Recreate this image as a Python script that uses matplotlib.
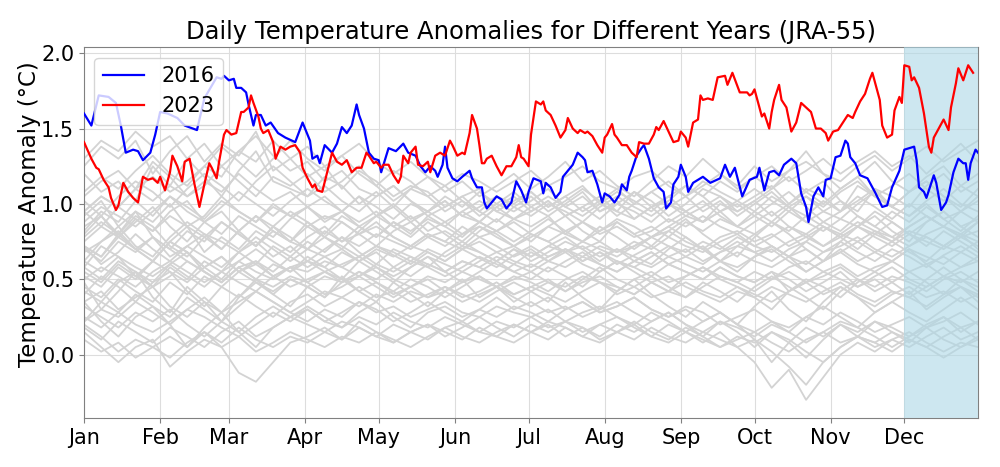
import numpy as np
import matplotlib
matplotlib.use("Agg")
import matplotlib.pyplot as plt

# month ticks (day of year, non-leap)
month_starts = [0, 31, 59, 90, 120, 151, 181, 212, 243, 273, 304, 334]
month_labels = ["Jan", "Feb", "Mar", "Apr", "May", "Jun",
                "Jul", "Aug", "Sep", "Oct", "Nov", "Dec"]

# 2016 anomalies (day of year, degC)
days_2016 = [0, 3, 6, 10, 13, 15, 17, 20, 22, 24, 27, 29, 31, 34, 38, 41, 46, 49, 54, 56,
             57, 59, 61, 62, 64, 66, 67, 69, 70, 72, 74, 76, 79, 82, 86, 89, 92, 93, 95, 96,
             98, 101, 103, 105, 107, 109, 111, 112, 114, 116, 118, 120, 121, 124, 127, 130,
             132, 135, 137, 139, 141, 143, 144, 146, 147, 148, 150, 152, 154, 157, 158, 160,
             162, 163, 164, 166, 168, 170, 172, 174, 176, 178, 180, 181, 183, 186, 187, 188,
             190, 192, 194, 195, 197, 199, 201, 203, 204, 205, 207, 209, 211, 212, 214, 216,
             218, 219, 221, 222, 223, 225, 227, 228, 230, 232, 234, 236, 237, 239, 240, 242,
             243, 245, 246, 248, 252, 255, 259, 261, 263, 265, 268, 271, 274, 275, 277, 279,
             281, 283, 285, 288, 290, 292, 294, 295, 297, 299, 301, 302, 304, 306, 308, 310,
             311, 312, 314, 316, 319, 322, 325, 327, 329, 332, 334, 338, 339, 340, 342, 343,
             346, 347, 349, 351, 352, 354, 356, 358, 359, 360, 361, 363, 364]
vals_2016 = [1.60, 1.52, 1.72, 1.71, 1.67, 1.52, 1.34, 1.36, 1.35, 1.29, 1.34, 1.46, 1.61, 1.60,
             1.57, 1.52, 1.49, 1.70, 1.84, 1.83, 1.85, 1.82, 1.83, 1.77, 1.77, 1.74, 1.66, 1.52,
             1.59, 1.59, 1.52, 1.54, 1.47, 1.44, 1.41, 1.54, 1.42, 1.30, 1.32, 1.27, 1.39, 1.34,
             1.40, 1.51, 1.47, 1.52, 1.66, 1.59, 1.50, 1.34, 1.30, 1.29, 1.21, 1.37, 1.35, 1.40,
             1.34, 1.32, 1.25, 1.21, 1.25, 1.22, 1.18, 1.26, 1.38, 1.24, 1.17, 1.15, 1.18, 1.22,
             1.17, 1.11, 1.11, 1.01, 0.97, 1.01, 1.05, 1.03, 0.97, 1.01, 1.15, 1.09, 1.01, 1.08,
             1.17, 1.15, 1.07, 1.14, 1.11, 1.04, 1.08, 1.18, 1.22, 1.26, 1.34, 1.31, 1.29, 1.21,
             1.22, 1.13, 1.01, 1.07, 1.05, 1.01, 1.06, 1.13, 1.09, 1.18, 1.22, 1.32, 1.37, 1.39,
             1.30, 1.17, 1.11, 1.08, 0.97, 1.01, 1.13, 1.18, 1.26, 1.18, 1.08, 1.14, 1.18, 1.14,
             1.17, 1.26, 1.18, 1.24, 1.05, 1.16, 1.18, 1.24, 1.09, 1.21, 1.22, 1.19, 1.26, 1.30,
             1.27, 1.07, 0.98, 0.88, 1.05, 1.11, 1.05, 1.16, 1.17, 1.31, 1.32, 1.42, 1.40, 1.31,
             1.27, 1.19, 1.17, 1.08, 0.98, 0.99, 1.11, 1.22, 1.36, 1.38, 1.29, 1.11, 1.08, 1.04,
             1.19, 1.14, 0.96, 1.01, 1.06, 1.21, 1.30, 1.27, 1.27, 1.16, 1.27, 1.36, 1.34]

# 2023 anomalies
days_2023 = [0, 3, 5, 6, 8, 10, 11, 13, 14, 16, 18, 20, 22, 24, 26, 28, 30, 31, 33, 35,
             36, 38, 40, 41, 43, 45, 47, 49, 51, 52, 54, 55, 57, 58, 60, 62, 64, 65, 67, 68,
             69, 71, 72, 73, 75, 77, 78, 80, 82, 84, 86, 88, 89, 91, 93, 94, 95, 97, 99, 101,
             103, 105, 107, 108, 109, 111, 113, 115, 116, 118, 119, 121, 122, 124, 126, 128,
             129, 130, 132, 133, 135, 136, 138, 140, 141, 143, 145, 147, 149, 150, 152, 154,
             155, 157, 158, 160, 161, 162, 163, 164, 166, 168, 170, 172, 174, 176, 177, 178,
             179, 181, 182, 184, 186, 187, 188, 190, 192, 194, 196, 197, 199, 201, 202, 204,
             205, 207, 209, 211, 212, 213, 215, 216, 217, 219, 221, 223, 225, 226, 228, 230,
             232, 233, 234, 236, 238, 240, 242, 243, 245, 246, 248, 250, 251, 252, 254, 256,
             258, 261, 262, 264, 267, 270, 271, 272, 273, 274, 276, 277, 279, 280, 281, 283,
             284, 286, 288, 290, 292, 294, 296, 298, 300, 302, 303, 305, 307, 309, 311, 313,
             314, 316, 318, 320, 321, 323, 324, 325, 327, 329, 330, 332, 333, 334, 336, 337,
             338, 340, 342, 344, 345, 346, 348, 350, 352, 353, 355, 356, 358, 360, 362]
vals_2023 = [1.41, 1.30, 1.24, 1.23, 1.16, 1.11, 1.04, 0.96, 0.99, 1.14, 1.08, 1.04, 1.01, 1.18,
             1.16, 1.17, 1.14, 1.18, 1.09, 1.21, 1.32, 1.25, 1.15, 1.28, 1.30, 1.13, 0.98, 1.13,
             1.27, 1.24, 1.17, 1.28, 1.46, 1.49, 1.46, 1.47, 1.61, 1.61, 1.64, 1.72, 1.67, 1.58,
             1.50, 1.47, 1.49, 1.41, 1.30, 1.38, 1.36, 1.38, 1.39, 1.34, 1.24, 1.17, 1.11, 1.13,
             1.09, 1.08, 1.21, 1.34, 1.28, 1.26, 1.29, 1.25, 1.21, 1.24, 1.24, 1.34, 1.32, 1.27,
             1.28, 1.24, 1.26, 1.26, 1.19, 1.14, 1.18, 1.32, 1.27, 1.34, 1.38, 1.26, 1.25, 1.28,
             1.21, 1.32, 1.34, 1.32, 1.42, 1.39, 1.32, 1.34, 1.33, 1.47, 1.59, 1.50, 1.39, 1.27,
             1.27, 1.30, 1.32, 1.25, 1.19, 1.25, 1.25, 1.31, 1.39, 1.31, 1.30, 1.25, 1.46, 1.68,
             1.66, 1.68, 1.62, 1.59, 1.52, 1.44, 1.49, 1.57, 1.50, 1.47, 1.49, 1.47, 1.48, 1.45,
             1.39, 1.34, 1.44, 1.46, 1.53, 1.46, 1.44, 1.39, 1.39, 1.34, 1.31, 1.41, 1.40, 1.40,
             1.46, 1.51, 1.49, 1.55, 1.48, 1.41, 1.42, 1.48, 1.44, 1.38, 1.54, 1.56, 1.72, 1.69,
             1.70, 1.69, 1.84, 1.85, 1.79, 1.87, 1.74, 1.74, 1.72, 1.73, 1.76, 1.70, 1.58, 1.60,
             1.50, 1.61, 1.69, 1.79, 1.69, 1.64, 1.48, 1.54, 1.67, 1.64, 1.61, 1.50, 1.50, 1.47,
             1.42, 1.48, 1.49, 1.54, 1.59, 1.57, 1.61, 1.68, 1.73, 1.83, 1.87, 1.75, 1.69, 1.52,
             1.44, 1.46, 1.62, 1.71, 1.67, 1.92, 1.91, 1.82, 1.84, 1.77, 1.60, 1.38, 1.34, 1.44,
             1.50, 1.56, 1.49, 1.64, 1.80, 1.90, 1.82, 1.92, 1.87]

# other years, sampled about weekly through the year
other_years = [
    [1.25, 1.38, 1.30, 1.42, 1.20, 1.35, 1.45, 1.28, 1.40, 1.32, 1.48, 1.22, 1.30,
     1.18, 1.25, 1.10, 1.22, 1.15, 1.05, 1.12, 1.08, 0.98, 1.05, 1.10, 0.95, 1.02,
     1.08, 0.98, 1.05, 1.12, 1.00, 0.95, 1.08, 1.02, 0.92, 1.00, 1.10, 1.05, 0.98,
     1.05, 1.12, 1.00, 1.08, 1.15, 1.02, 0.95, 1.10, 1.05, 0.98, 1.12, 1.20, 1.08, 1.15],
    [1.05, 1.15, 1.22, 1.10, 1.28, 1.18, 1.05, 1.12, 1.25, 1.15, 1.05, 1.18, 1.12,
     1.20, 1.08, 1.15, 1.25, 1.12, 1.02, 1.10, 1.18, 1.08, 1.15, 1.05, 1.12, 1.20,
     1.10, 1.18, 1.28, 1.15, 1.22, 1.12, 1.05, 1.15, 1.25, 1.18, 1.30, 1.20, 1.12,
     1.25, 1.15, 1.22, 1.35, 1.20, 1.10, 1.18, 1.28, 1.15, 1.08, 1.18, 1.25, 1.12, 1.20],
    [1.20, 1.08, 1.15, 1.02, 1.25, 1.12, 1.30, 1.18, 1.05, 1.22, 1.35, 1.15, 1.10,
     1.05, 1.18, 1.12, 1.00, 1.08, 0.98, 1.10, 1.05, 0.95, 1.02, 0.92, 1.00, 1.08,
     0.98, 0.92, 1.00, 1.08, 0.95, 1.02, 0.90, 0.98, 1.05, 0.95, 0.88, 1.00, 0.95,
     1.02, 0.92, 1.00, 1.10, 1.05, 0.95, 1.12, 1.05, 0.98, 1.08, 1.15, 1.05, 0.98, 1.10],
    [1.30, 1.42, 1.35, 1.48, 1.38, 1.45, 1.30, 1.40, 1.25, 1.35, 1.45, 1.32, 1.22,
     1.28, 1.15, 1.22, 1.10, 1.05, 1.12, 1.02, 0.95, 1.05, 0.98, 1.08, 1.00, 0.95,
     1.02, 1.10, 0.98, 1.05, 0.95, 1.00, 1.08, 0.98, 1.02, 1.12, 1.05, 0.95, 1.00,
     0.92, 1.00, 1.08, 0.98, 0.88, 0.95, 1.02, 1.10, 0.98, 0.92, 1.00, 0.90, 0.95, 1.02],
    [0.85, 0.92, 0.80, 0.95, 0.88, 1.00, 0.85, 0.92, 1.05, 0.95, 0.88, 1.00, 0.92,
     0.98, 0.90, 0.95, 1.05, 0.92, 0.98, 0.88, 0.95, 1.02, 0.92, 0.98, 1.05, 1.00,
     1.08, 0.98, 1.05, 0.95, 1.02, 1.10, 1.00, 1.08, 1.15, 1.05, 1.12, 1.20, 1.10,
     1.18, 1.25, 1.15, 1.22, 1.30, 1.20, 1.28, 1.35, 1.25, 1.32, 1.20, 1.30, 1.40, 1.28],
    [0.95, 0.85, 0.98, 0.90, 0.82, 0.95, 1.02, 0.88, 0.80, 0.92, 0.85, 0.78, 0.90,
     0.98, 0.88, 0.95, 0.85, 0.92, 1.00, 0.90, 0.95, 1.02, 0.92, 0.88, 0.98, 1.05,
     0.95, 1.02, 0.92, 0.98, 1.05, 0.95, 0.90, 0.98, 0.88, 0.95, 1.02, 0.92, 0.85,
     0.95, 1.05, 0.98, 0.88, 0.95, 1.02, 0.92, 0.85, 0.95, 0.88, 0.98, 0.90, 0.82, 0.92],
    [0.92, 1.02, 0.85, 0.95, 0.78, 0.70, 0.82, 0.75, 0.88, 0.80, 0.72, 0.85, 0.78,
     0.70, 0.82, 0.75, 0.85, 0.78, 0.88, 0.80, 0.92, 0.85, 0.95, 0.88, 0.98, 0.90,
     0.95, 1.02, 0.92, 0.98, 0.90, 1.00, 0.95, 0.88, 0.98, 1.05, 0.95, 1.02, 0.92,
     1.00, 1.08, 0.98, 0.92, 1.02, 0.95, 1.05, 0.98, 0.90, 1.00, 0.92, 0.85, 0.95, 0.88],
    [0.78, 0.88, 0.80, 0.92, 0.85, 0.72, 0.65, 0.78, 0.70, 0.82, 0.92, 0.85, 0.75,
     0.88, 0.80, 0.92, 0.85, 0.78, 0.88, 0.82, 0.90, 0.85, 0.78, 0.88, 0.82, 0.90,
     0.85, 0.92, 0.80, 0.88, 0.82, 0.90, 0.85, 0.78, 0.85, 0.92, 0.88, 0.95, 0.85,
     0.92, 0.85, 0.95, 0.88, 0.82, 0.90, 0.85, 0.95, 0.88, 0.80, 0.88, 0.95, 0.85, 0.90],
    [0.72, 0.65, 0.80, 0.70, 0.62, 0.75, 0.85, 0.68, 0.78, 0.70, 0.82, 0.75, 0.68,
     0.78, 0.85, 0.75, 0.80, 0.88, 0.78, 0.72, 0.80, 0.75, 0.85, 0.78, 0.82, 0.88,
     0.80, 0.75, 0.82, 0.88, 0.80, 0.85, 0.78, 0.82, 0.90, 0.85, 0.92, 0.85, 0.80,
     0.88, 0.95, 0.85, 0.80, 0.88, 0.82, 0.92, 0.85, 0.78, 0.85, 0.92, 0.85, 0.80, 0.88],
    [0.95, 1.05, 0.98, 1.10, 1.02, 1.12, 1.05, 1.15, 1.08, 1.20, 1.10, 1.02, 1.08,
     0.98, 1.05, 0.95, 0.88, 0.95, 0.85, 0.92, 0.82, 0.88, 0.80, 0.85, 0.78, 0.72,
     0.80, 0.75, 0.68, 0.72, 0.65, 0.70, 0.62, 0.68, 0.60, 0.65, 0.72, 0.62, 0.58,
     0.65, 0.70, 0.62, 0.55, 0.62, 0.68, 0.60, 0.55, 0.62, 0.70, 0.60, 0.52, 0.58, 0.65],
    [0.55, 0.48, 0.60, 0.52, 0.45, 0.58, 0.50, 0.62, 0.55, 0.68, 0.60, 0.72, 0.65,
     0.75, 0.68, 0.78, 0.72, 0.80, 0.75, 0.70, 0.78, 0.82, 0.75, 0.85, 0.80, 0.72,
     0.78, 0.85, 0.80, 0.75, 0.82, 0.88, 0.80, 0.85, 0.78, 0.88, 0.82, 0.90, 0.85,
     0.80, 0.88, 0.82, 0.92, 0.85, 0.78, 0.85, 0.80, 0.75, 0.82, 0.78, 0.72, 0.80, 0.75],
    [0.70, 0.62, 0.75, 0.68, 0.78, 0.70, 0.62, 0.55, 0.48, 0.58, 0.50, 0.60, 0.55,
     0.62, 0.58, 0.68, 0.62, 0.70, 0.65, 0.72, 0.68, 0.62, 0.70, 0.75, 0.68, 0.72,
     0.65, 0.72, 0.78, 0.70, 0.75, 0.68, 0.72, 0.78, 0.82, 0.75, 0.70, 0.78, 0.82,
     0.75, 0.80, 0.72, 0.78, 0.85, 0.80, 0.75, 0.82, 0.78, 0.72, 0.80, 0.85, 0.78, 0.82],
    [0.68, 0.75, 0.82, 0.70, 0.78, 0.65, 0.72, 0.80, 0.75, 0.68, 0.78, 0.70, 0.62,
     0.70, 0.65, 0.58, 0.65, 0.72, 0.66, 0.60, 0.68, 0.62, 0.70, 0.64, 0.58, 0.66,
     0.72, 0.65, 0.70, 0.62, 0.68, 0.60, 0.66, 0.72, 0.65, 0.70, 0.62, 0.68, 0.75,
     0.68, 0.72, 0.65, 0.60, 0.68, 0.75, 0.68, 0.62, 0.70, 0.65, 0.58, 0.66, 0.72, 0.65],
    [0.82, 0.95, 0.88, 1.02, 0.92, 1.05, 0.98, 0.90, 1.02, 0.95, 0.88, 0.98, 0.92,
     0.85, 0.92, 0.88, 0.80, 0.85, 0.78, 0.72, 0.80, 0.75, 0.70, 0.78, 0.72, 0.65,
     0.70, 0.62, 0.68, 0.60, 0.55, 0.62, 0.58, 0.52, 0.60, 0.55, 0.50, 0.58, 0.52,
     0.48, 0.55, 0.50, 0.42, 0.48, 0.55, 0.45, 0.50, 0.42, 0.38, 0.45, 0.52, 0.45, 0.40],
    [0.45, 0.38, 0.50, 0.42, 0.35, 0.48, 0.40, 0.52, 0.45, 0.38, 0.48, 0.42, 0.50,
     0.45, 0.52, 0.48, 0.55, 0.50, 0.58, 0.52, 0.60, 0.55, 0.62, 0.58, 0.65, 0.60,
     0.68, 0.62, 0.70, 0.65, 0.72, 0.68, 0.75, 0.70, 0.78, 0.72, 0.68, 0.75, 0.80,
     0.72, 0.78, 0.85, 0.78, 0.72, 0.80, 0.88, 0.82, 0.75, 0.85, 0.92, 0.85, 0.78, 0.88],
    [0.52, 0.45, 0.58, 0.50, 0.62, 0.55, 0.48, 0.58, 0.65, 0.55, 0.60, 0.52, 0.58,
     0.55, 0.62, 0.58, 0.52, 0.60, 0.55, 0.62, 0.58, 0.52, 0.58, 0.65, 0.60, 0.55,
     0.60, 0.55, 0.62, 0.68, 0.60, 0.55, 0.62, 0.58, 0.65, 0.60, 0.55, 0.62, 0.68,
     0.62, 0.58, 0.65, 0.70, 0.62, 0.68, 0.75, 0.68, 0.62, 0.70, 0.65, 0.60, 0.68, 0.62],
    [0.42, 0.35, 0.48, 0.55, 0.45, 0.52, 0.62, 0.55, 0.48, 0.58, 0.50, 0.45, 0.52,
     0.48, 0.40, 0.45, 0.52, 0.45, 0.38, 0.45, 0.50, 0.42, 0.48, 0.52, 0.45, 0.40,
     0.45, 0.50, 0.42, 0.48, 0.52, 0.45, 0.40, 0.48, 0.42, 0.38, 0.45, 0.52, 0.48,
     0.42, 0.50, 0.55, 0.48, 0.52, 0.58, 0.50, 0.45, 0.52, 0.48, 0.42, 0.50, 0.55, 0.48],
    [0.58, 0.50, 0.62, 0.55, 0.48, 0.60, 0.52, 0.45, 0.55, 0.48, 0.42, 0.52, 0.45,
     0.50, 0.55, 0.48, 0.52, 0.58, 0.50, 0.45, 0.52, 0.48, 0.55, 0.50, 0.45, 0.52,
     0.48, 0.42, 0.50, 0.55, 0.48, 0.45, 0.40, 0.48, 0.52, 0.45, 0.40, 0.35, 0.42,
     0.38, 0.45, 0.40, 0.35, 0.42, 0.48, 0.40, 0.35, 0.42, 0.38, 0.32, 0.40, 0.45, 0.38],
    [0.72, 0.65, 0.78, 0.70, 0.62, 0.75, 0.68, 0.58, 0.65, 0.55, 0.62, 0.52, 0.58,
     0.48, 0.55, 0.50, 0.42, 0.48, 0.40, 0.45, 0.38, 0.42, 0.35, 0.40, 0.45, 0.38,
     0.32, 0.38, 0.30, 0.35, 0.28, 0.32, 0.38, 0.30, 0.25, 0.30, 0.22, 0.28, 0.20,
     0.15, 0.22, 0.18, 0.25, 0.20, 0.28, 0.22, 0.15, 0.20, 0.25, 0.18, 0.22, 0.28, 0.20],
    [0.35, 0.42, 0.30, 0.38, 0.45, 0.32, 0.25, 0.35, 0.28, 0.40, 0.32, 0.25, 0.35,
     0.40, 0.32, 0.38, 0.45, 0.38, 0.42, 0.35, 0.40, 0.45, 0.38, 0.42, 0.48, 0.40,
     0.45, 0.40, 0.35, 0.42, 0.48, 0.40, 0.45, 0.38, 0.42, 0.48, 0.42, 0.38, 0.45,
     0.40, 0.35, 0.42, 0.48, 0.40, 0.45, 0.38, 0.32, 0.40, 0.45, 0.38, 0.42, 0.35, 0.40],
    [0.32, 0.25, 0.18, 0.28, 0.22, 0.30, 0.20, 0.12, 0.22, 0.15, 0.25, 0.32, 0.25,
     0.30, 0.22, 0.28, 0.35, 0.28, 0.32, 0.25, 0.30, 0.35, 0.28, 0.25, 0.32, 0.28,
     0.25, 0.30, 0.22, 0.28, 0.32, 0.25, 0.20, 0.28, 0.22, 0.15, 0.22, 0.28, 0.20,
     0.10, -0.05, 0.08, 0.18, 0.12, 0.20, 0.15, 0.22, 0.18, 0.12, 0.20, 0.25, 0.18, 0.22],
    [0.25, 0.18, 0.28, 0.20, 0.15, 0.22, 0.30, 0.25, 0.18, 0.12, 0.20, 0.28, 0.22,
     0.30, 0.22, 0.18, 0.25, 0.20, 0.28, 0.22, 0.18, 0.25, 0.20, 0.15, 0.22, 0.18,
     0.25, 0.18, 0.22, 0.15, 0.20, 0.25, 0.18, 0.12, 0.20, 0.15, 0.08, 0.15, 0.05,
     -0.05, -0.22, -0.10, -0.30, -0.15, 0.00, 0.08, 0.02, 0.10, 0.05, 0.12, 0.18, 0.10, 0.15],
    [0.20, 0.12, 0.02, 0.10, 0.05, -0.02, 0.08, 0.15, 0.05, -0.12, -0.18, -0.05, 0.08,
     0.12, 0.18, 0.10, 0.22, 0.15, 0.08, 0.15, 0.20, 0.12, 0.18, 0.25, 0.18, 0.12,
     0.20, 0.15, 0.22, 0.18, 0.12, 0.20, 0.15, 0.22, 0.28, 0.20, 0.15, 0.22, 0.18,
     0.12, 0.20, 0.15, 0.08, 0.15, 0.22, 0.18, 0.12, 0.05, 0.12, 0.18, 0.10, 0.05, 0.12],
    [0.18, 0.10, 0.22, 0.15, 0.08, 0.18, 0.12, 0.05, 0.15, 0.22, 0.12, 0.18, 0.25,
     0.20, 0.15, 0.22, 0.18, 0.12, 0.20, 0.15, 0.10, 0.18, 0.22, 0.15, 0.12, 0.20,
     0.15, 0.10, 0.18, 0.12, 0.08, 0.15, 0.20, 0.12, 0.08, 0.15, 0.10, 0.05, 0.12,
     0.08, 0.15, 0.10, 0.02, -0.05, 0.05, 0.12, 0.08, 0.15, 0.10, 0.05, 0.12, 0.18, 0.10],
    [0.10, 0.02, 0.08, -0.02, 0.05, 0.12, 0.05, 0.15, 0.08, 0.18, 0.10, 0.05, 0.12,
     0.08, 0.15, 0.10, 0.18, 0.12, 0.08, 0.15, 0.20, 0.15, 0.10, 0.18, 0.12, 0.08,
     0.15, 0.20, 0.12, 0.18, 0.10, 0.15, 0.22, 0.15, 0.10, 0.18, 0.12, 0.05, 0.10,
     0.15, 0.08, 0.02, 0.10, 0.15, 0.08, 0.12, 0.05, 0.10, 0.15, 0.08, 0.02, 0.08, 0.05],
    [0.62, 0.55, 0.65, 0.58, 0.52, 0.60, 0.68, 0.55, 0.48, 0.58, 0.62, 0.55, 0.65,
     0.58, 0.65, 0.70, 0.62, 0.68, 0.58, 0.65, 0.60, 0.55, 0.62, 0.58, 0.52, 0.60,
     0.55, 0.62, 0.58, 0.65, 0.60, 0.55, 0.62, 0.68, 0.60, 0.55, 0.50, 0.58, 0.52,
     0.48, 0.55, 0.42, 0.48, 0.55, 0.50, 0.45, 0.52, 0.58, 0.50, 0.45, 0.52, 0.48, 0.55],
    [0.88, 0.98, 0.92, 0.85, 0.95, 1.05, 0.95, 0.88, 0.98, 1.08, 1.00, 0.92, 1.02,
     1.10, 1.02, 0.95, 1.05, 0.98, 0.90, 1.00, 0.95, 0.88, 0.95, 1.02, 0.95, 0.90,
     0.98, 1.05, 0.98, 0.92, 1.00, 1.08, 1.02, 0.95, 1.05, 1.12, 1.05, 1.15, 1.08,
     1.18, 1.10, 1.22, 1.28, 1.20, 1.15, 1.25, 1.32, 1.22, 1.30, 1.38, 1.28, 1.35, 1.42],
    [0.75, 0.85, 0.78, 0.90, 0.82, 0.92, 0.85, 0.78, 0.88, 0.80, 0.72, 0.82, 0.75,
     0.70, 0.78, 0.72, 0.65, 0.72, 0.68, 0.62, 0.70, 0.65, 0.72, 0.68, 0.62, 0.70,
     0.65, 0.72, 0.68, 0.75, 0.70, 0.65, 0.72, 0.78, 0.72, 0.68, 0.75, 0.70, 0.78,
     0.72, 0.68, 0.75, 0.80, 0.72, 0.78, 0.85, 0.78, 0.72, 0.80, 0.75, 0.70, 0.78, 0.72],
    [0.22, 0.30, 0.25, 0.35, 0.28, 0.20, 0.30, 0.38, 0.28, 0.35, 0.42, 0.35, 0.28,
     0.35, 0.42, 0.38, 0.32, 0.40, 0.35, 0.42, 0.38, 0.45, 0.40, 0.35, 0.42, 0.48,
     0.42, 0.48, 0.45, 0.52, 0.48, 0.42, 0.50, 0.55, 0.48, 0.52, 0.58, 0.52, 0.48,
     0.55, 0.50, 0.58, 0.62, 0.55, 0.60, 0.52, 0.58, 0.62, 0.55, 0.60, 0.65, 0.58, 0.62],
    [0.15, 0.05, -0.05, 0.05, 0.10, -0.08, 0.02, 0.10, 0.05, 0.12, 0.02, 0.08, 0.15,
     0.10, 0.05, 0.12, 0.08, 0.15, 0.10, 0.05, 0.12, 0.18, 0.12, 0.08, 0.15, 0.20,
     0.15, 0.22, 0.18, 0.12, 0.20, 0.15, 0.10, 0.18, 0.12, 0.08, 0.15, 0.10, 0.05,
     0.10, 0.02, -0.08, -0.20, -0.05, 0.05, 0.12, 0.08, 0.02, 0.10, 0.05, -0.02, 0.05, 0.10],
    [0.95, 1.05, 0.98, 1.10, 1.18, 1.08, 1.15, 1.25, 1.18, 1.35, 1.28, 1.42, 1.30,
     1.38, 1.25, 1.32, 1.40, 1.28, 1.20, 1.28, 1.18, 1.12, 1.20, 1.15, 1.08, 1.15,
     1.22, 1.12, 1.18, 1.25, 1.15, 1.10, 1.18, 1.22, 1.12, 1.05, 1.15, 1.08, 1.02,
     1.10, 1.02, 0.95, 1.05, 0.98, 1.08, 1.15, 1.05, 1.12, 1.20, 1.10, 1.02, 1.12, 1.05],
    [0.50, 0.58, 0.52, 0.45, 0.55, 0.62, 0.55, 0.48, 0.55, 0.62, 0.55, 0.50, 0.58,
     0.62, 0.55, 0.60, 0.65, 0.58, 0.52, 0.58, 0.65, 0.60, 0.55, 0.62, 0.68, 0.62,
     0.58, 0.65, 0.70, 0.62, 0.68, 0.62, 0.58, 0.65, 0.72, 0.65, 0.60, 0.68, 0.72,
     0.68, 0.62, 0.70, 0.75, 0.68, 0.72, 0.78, 0.70, 0.65, 0.72, 0.78, 0.72, 0.68, 0.75],
    [0.80, 0.92, 0.78, 0.88, 0.98, 0.85, 0.75, 0.88, 0.95, 0.82, 0.72, 0.85, 0.95,
     0.88, 0.78, 0.70, 0.82, 0.92, 0.85, 0.78, 0.88, 0.80, 0.72, 0.82, 0.90, 0.82,
     0.75, 0.85, 0.92, 0.82, 0.75, 0.88, 0.80, 0.72, 0.82, 0.90, 0.80, 0.72, 0.65,
     0.78, 0.88, 0.80, 0.70, 0.62, 0.75, 0.85, 0.92, 0.82, 0.75, 0.88, 0.95, 0.85, 0.78],
    [0.48, 0.30, 0.42, 0.55, 0.38, 0.28, 0.45, 0.35, 0.22, 0.38, 0.50, 0.40, 0.32,
     0.45, 0.38, 0.52, 0.42, 0.35, 0.48, 0.40, 0.32, 0.42, 0.50, 0.38, 0.45, 0.35,
     0.42, 0.35, 0.48, 0.38, 0.30, 0.42, 0.50, 0.40, 0.32, 0.25, 0.35, 0.28, 0.20,
     0.32, 0.42, 0.30, 0.22, 0.35, 0.45, 0.38, 0.28, 0.35, 0.42, 0.30, 0.38, 0.45, 0.35],
    [0.58, 0.72, 0.65, 0.52, 0.62, 0.75, 0.68, 0.58, 0.50, 0.62, 0.70, 0.62, 0.55,
     0.65, 0.58, 0.50, 0.62, 0.55, 0.48, 0.58, 0.65, 0.55, 0.48, 0.55, 0.62, 0.55,
     0.50, 0.58, 0.52, 0.45, 0.55, 0.62, 0.55, 0.48, 0.42, 0.52, 0.58, 0.50, 0.45,
     0.38, 0.30, 0.42, 0.50, 0.45, 0.38, 0.48, 0.55, 0.48, 0.40, 0.50, 0.58, 0.50, 0.45],
    [1.02, 0.92, 1.05, 1.15, 1.08, 0.98, 1.10, 1.20, 1.12, 1.02, 1.15, 1.25, 1.15,
     1.05, 1.12, 1.02, 0.95, 1.05, 1.12, 1.02, 0.92, 0.98, 1.05, 0.95, 0.88, 0.98,
     1.05, 0.95, 1.02, 1.10, 1.02, 0.92, 1.00, 1.08, 1.00, 0.92, 0.98, 1.05, 0.95,
     1.02, 1.10, 1.18, 1.08, 1.00, 1.10, 1.18, 1.05, 0.98, 1.08, 1.15, 1.05, 0.95, 1.05],
    [0.35, 0.22, 0.12, 0.25, 0.32, 0.20, 0.05, 0.18, 0.28, 0.15, 0.05, 0.18, 0.25,
     0.32, 0.25, 0.18, 0.28, 0.35, 0.25, 0.18, 0.28, 0.32, 0.25, 0.30, 0.38, 0.30,
     0.35, 0.28, 0.32, 0.25, 0.30, 0.35, 0.28, 0.22, 0.28, 0.20, 0.12, 0.22, 0.15,
     0.05, 0.15, 0.08, -0.02, 0.10, 0.20, 0.12, 0.22, 0.15, 0.08, 0.18, 0.25, 0.15, 0.22],
    [0.62, 0.75, 0.85, 0.72, 0.65, 0.78, 0.88, 0.80, 0.70, 0.82, 0.92, 0.82, 0.75,
     0.85, 0.78, 0.88, 0.80, 0.72, 0.82, 0.88, 0.78, 0.72, 0.80, 0.88, 0.82, 0.75,
     0.82, 0.90, 0.82, 0.75, 0.85, 0.78, 0.70, 0.78, 0.85, 0.78, 0.70, 0.62, 0.72,
     0.80, 0.72, 0.65, 0.75, 0.85, 0.78, 0.70, 0.80, 0.88, 0.80, 0.72, 0.82, 0.75, 0.68],
    [0.40, 0.52, 0.45, 0.35, 0.48, 0.55, 0.42, 0.32, 0.45, 0.55, 0.48, 0.40, 0.50,
     0.45, 0.38, 0.48, 0.55, 0.48, 0.42, 0.50, 0.45, 0.38, 0.45, 0.52, 0.45, 0.50,
     0.55, 0.48, 0.42, 0.50, 0.58, 0.50, 0.45, 0.52, 0.45, 0.38, 0.48, 0.42, 0.35,
     0.45, 0.52, 0.45, 0.38, 0.30, 0.42, 0.50, 0.42, 0.48, 0.55, 0.48, 0.40, 0.50, 0.42],
    [1.08, 1.18, 1.10, 1.22, 1.32, 1.20, 1.12, 1.25, 1.38, 1.28, 1.18, 1.30, 1.42,
     1.30, 1.22, 1.32, 1.20, 1.12, 1.22, 1.15, 1.05, 1.12, 1.02, 0.95, 1.05, 0.98,
     0.92, 1.00, 0.95, 0.88, 0.98, 1.05, 0.98, 0.92, 1.00, 0.95, 0.88, 0.95, 1.02,
     0.95, 0.88, 0.98, 1.05, 0.95, 0.90, 1.00, 1.08, 0.98, 0.92, 1.02, 1.10, 1.00, 0.95],
    [0.22, 0.35, 0.28, 0.40, 0.32, 0.25, 0.38, 0.30, 0.22, 0.32, 0.42, 0.35, 0.28,
     0.22, 0.30, 0.25, 0.35, 0.30, 0.22, 0.28, 0.35, 0.28, 0.22, 0.30, 0.25, 0.32,
     0.28, 0.22, 0.30, 0.35, 0.28, 0.32, 0.38, 0.30, 0.25, 0.32, 0.28, 0.20, 0.25,
     0.30, 0.22, 0.15, 0.25, 0.32, 0.25, 0.18, 0.28, 0.35, 0.28, 0.22, 0.30, 0.38, 0.30],
    [0.72, 0.60, 0.68, 0.80, 0.70, 0.62, 0.72, 0.65, 0.58, 0.68, 0.75, 0.65, 0.72,
     0.62, 0.70, 0.78, 0.68, 0.60, 0.70, 0.65, 0.58, 0.68, 0.75, 0.68, 0.62, 0.70,
     0.62, 0.68, 0.75, 0.70, 0.62, 0.70, 0.65, 0.60, 0.70, 0.78, 0.70, 0.62, 0.55,
     0.65, 0.72, 0.65, 0.55, 0.62, 0.70, 0.62, 0.68, 0.75, 0.68, 0.62, 0.72, 0.80, 0.70],
]

fig = plt.figure(figsize=(10, 4.67), dpi=100)
ax = fig.add_axes([0.084, 0.105, 0.894, 0.794])

# grey background years
for vals in other_years:
    d = np.linspace(0, 364, len(vals))
    ax.plot(d, vals, color="lightgray", lw=1.3, zorder=2)

# December highlight
ax.axvspan(month_starts[-1], 364, color="lightblue", alpha=0.6, lw=0, zorder=3)

ax.plot(days_2016, vals_2016, color="blue", lw=1.6, label="2016", zorder=4)
ax.plot(days_2023, vals_2023, color="red", lw=1.6, label="2023", zorder=5)

ax.set_xlim(0, 364)
ax.set_ylim(-0.42, 2.04)
ax.set_xticks(month_starts)
ax.set_xticklabels(month_labels)
ax.set_yticks([0.0, 0.5, 1.0, 1.5, 2.0])
ax.tick_params(labelsize=15, color="gray")
ax.grid(True, color="#dddddd", lw=0.8, zorder=0)
ax.set_axisbelow(True)
for s in ax.spines.values():
    s.set_color("gray")

ax.set_ylabel("Temperature Anomaly (°C)", fontsize=16.5)
ax.yaxis.set_label_coords(-0.048, 0.55)
ax.set_title("Daily Temperature Anomalies for Different Years (JRA-55)", fontsize=17.5)
ax.legend(loc="upper left", fontsize=15)

fig.savefig("out.png", dpi=100)
